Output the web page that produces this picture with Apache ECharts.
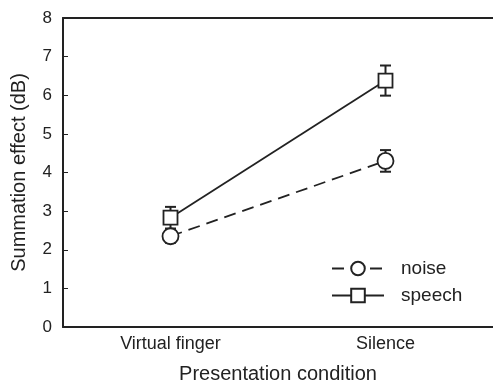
<!DOCTYPE html>
<html>
<head>
<meta charset="utf-8">
<script src="https://cdn.jsdelivr.net/npm/echarts@6/dist/echarts.min.js"></script>
<style>
  html, body { margin: 0; padding: 0; background: #fff; }
  #graph { width: 493px; height: 389px; }
</style>
</head>
<body>
<div id="graph"></div>
<script>
// data
const conditions = ['Virtual finger', 'Silence'];
const noiseMean = [2.35, 4.30];
const noiseErr = [0.17, 0.28];
const speechMean = [2.83, 6.38];
const speechErr = [0.28, 0.39];
const yTicks = [0, 1, 2, 3, 4, 5, 6, 7, 8];

var myChart = echarts.init(document.getElementById('graph'));
const FONT = '"Liberation Sans", Arial, sans-serif';
const INK = '#222';

// error bar rows: [categoryIndex, low, high]
const errRows = (mean, err) => mean.map((m, i) => [i, m - err[i], m + err[i]]);

const renderErr = (params, api) => {
  const x = api.value(0);
  const lo = api.coord([x, api.value(1)]);
  const hi = api.coord([x, api.value(2)]);
  const cap = 5.5;
  const st = { stroke: INK, lineWidth: 2 };
  return {
    type: 'group',
    children: [
      { type: 'line', shape: { x1: lo[0], y1: lo[1], x2: hi[0], y2: hi[1] }, style: st },
      { type: 'line', shape: { x1: lo[0] - cap, y1: lo[1], x2: lo[0] + cap, y2: lo[1] }, style: st },
      { type: 'line', shape: { x1: hi[0] - cap, y1: hi[1], x2: hi[0] + cap, y2: hi[1] }, style: st }
    ]
  };
};

const option = {
  animation: false,
  textStyle: { fontFamily: FONT },
  grid: { left: 63, top: 18, width: 439, height: 315 },
  legend: {
    data: ['noise', 'speech'],
    orient: 'vertical',
    left: 331,
    top: 259,
    padding: 0,
    itemWidth: 52,
    itemHeight: 17,
    itemGap: 8,
    textStyle: { fontSize: 19, color: INK, fontFamily: FONT, padding: [0, 0, 0, 12] }
  },
  xAxis: [
    {
      type: 'category',
      data: conditions,
      name: 'Presentation condition',
      nameLocation: 'middle',
      nameGap: 37,
      nameTextStyle: { fontSize: 20, color: INK },
      axisLine: { lineStyle: { color: INK, width: 2 } },
      axisTick: { inside: true, length: 5, alignWithLabel: true, lineStyle: { color: INK } },
      axisLabel: { fontSize: 18, color: INK, margin: 8 },
      splitLine: { show: false }
    },
    {
      type: 'category',
      data: conditions,
      position: 'top',
      axisLine: { lineStyle: { color: INK, width: 2 } },
      axisTick: { inside: true, length: 5, alignWithLabel: true, lineStyle: { color: INK } },
      axisLabel: { show: false },
      splitLine: { show: false }
    }
  ],
  yAxis: {
    type: 'value',
    min: yTicks[0],
    max: yTicks[yTicks.length - 1],
    interval: 1,
    name: 'Summation effect (dB)',
    nameLocation: 'middle',
    nameGap: 34,
    nameTextStyle: { fontSize: 20, color: INK },
    axisLine: { show: true, lineStyle: { color: INK, width: 2 } },
    axisTick: { show: true, inside: true, length: 5, lineStyle: { color: INK } },
    axisLabel: { fontSize: 17, color: INK, margin: 11 },
    splitLine: { show: false }
  },
  series: [
    {
      type: 'custom',
      renderItem: renderErr,
      data: errRows(noiseMean, noiseErr),
      z: 1
    },
    {
      type: 'custom',
      renderItem: renderErr,
      data: errRows(speechMean, speechErr),
      z: 1
    },
    {
      name: 'noise',
      type: 'line',
      data: noiseMean,
      symbol: 'circle',
      symbolSize: 16,
      lineStyle: { color: INK, width: 1.8, type: [12, 7] },
      itemStyle: { color: '#fff', borderColor: INK, borderWidth: 1.8 },
      z: 3
    },
    {
      name: 'speech',
      type: 'line',
      data: speechMean,
      symbol: 'rect',
      symbolSize: 14,
      lineStyle: { color: INK, width: 1.8 },
      itemStyle: { color: '#fff', borderColor: INK, borderWidth: 1.8 },
      z: 3
    }
  ]
};

myChart.setOption(option);
</script>
</body>
</html>
